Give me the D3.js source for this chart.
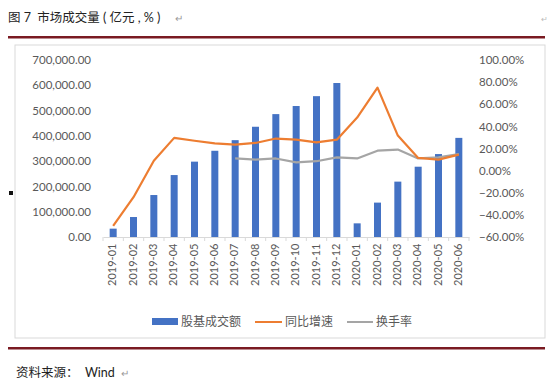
<!DOCTYPE html>
<html>
<head>
<meta charset="utf-8">
<script src="https://cdn.jsdelivr.net/npm/d3@7"></script>
<style>
  body { margin: 0; background: #fff; }
  text { font-family: Lato, "Noto Sans CJK SC", sans-serif; }
</style>
</head>
<body>
<svg id="chart" width="550" height="385"></svg>
<script>
var months = ["2019-01","2019-02","2019-03","2019-04","2019-05","2019-06","2019-07","2019-08","2019-09",
  "2019-10","2019-11","2019-12","2020-01","2020-02","2020-03","2020-04","2020-05","2020-06"];
// 股基成交额 (亿元)
var volume = [33000, 79000, 166000, 245000, 298000, 341000, 383000, 436000, 486000,
  518000, 557000, 609000, 54000, 136000, 219000, 278000, 328000, 392000];
// 同比增速 (%)
var growth = [-50, -24, 9, 29.6, 27, 24.7, 23.5, 25, 29, 28, 25.6, 28, 48, 75, 31.7, 11.5, 10, 14.5];
// 换手率 (%), starts 2019-07
var turnover = [null, null, null, null, null, null, 11, 10, 11, 7.5, 8.5, 12, 11, 18, 19, 11, 12, 15];

var leftTicks = [0, 100000, 200000, 300000, 400000, 500000, 600000, 700000];
var rightTicks = [-60, -40, -20, 0, 20, 40, 60, 80, 100];

var svg = d3.select("#chart");

// header / footer
svg.append("text").attr("x", 8).attr("y", 22).attr("font-size", 12.5).attr("fill", "#222")
  .attr("xml:space", "preserve").text("图 7  市场成交量 ( 亿元 , % )");
svg.append("text").attr("x", 175).attr("y", 22).attr("font-size", 10).attr("fill", "#999").text("↵");
svg.append("text").attr("x", 541).attr("y", 22).attr("font-size", 8).attr("fill", "#bbb").text("↵");
svg.append("rect").attr("x", 8).attr("y", 36).attr("width", 537).attr("height", 2.5).attr("fill", "#7a1a22");
svg.append("rect").attr("x", 15).attr("y", 45).attr("width", 530).attr("height", 293)
  .attr("fill", "none").attr("stroke", "#d9d9d9");
svg.append("rect").attr("x", 8).attr("y", 347).attr("width", 537).attr("height", 2.5).attr("fill", "#7a1a22");
svg.append("text").attr("x", 16).attr("y", 377).attr("font-size", 12.5).attr("fill", "#222")
  .attr("xml:space", "preserve").text("资料来源：  Wind");
svg.append("text").attr("x", 121).attr("y", 377).attr("font-size", 10).attr("fill", "#999").text("↵");
svg.append("rect").attr("x", 9).attr("y", 191).attr("width", 4).attr("height", 4).attr("fill", "#111");

var margin = {top: 60, left: 103, right: 469, bottom: 237};

var x = d3.scaleBand().domain(months).range([margin.left, margin.right]);
var yL = d3.scaleLinear().domain([0, 700000]).range([margin.bottom, margin.top]);
var yR = d3.scaleLinear().domain([-60, 100]).range([margin.bottom, margin.top]);

var fmtL = d3.format(",.2f");

var gL = svg.append("g").attr("transform", "translate(" + 94 + ",0)")
  .call(d3.axisLeft(yL).tickValues(leftTicks).tickFormat(fmtL).tickSize(0));
gL.select(".domain").remove();
gL.selectAll("text").attr("font-size", 11.5).attr("fill", "#595959").attr("font-family", "Lato, sans-serif");

var gR = svg.append("g").attr("transform", "translate(" + 476 + ",0)")
  .call(d3.axisRight(yR).tickValues(rightTicks).tickFormat(function (d) { return d3.format(".2f")(d) + "%"; }).tickSize(0));
gR.select(".domain").remove();
gR.selectAll("text").attr("font-size", 11.5).attr("fill", "#595959").attr("font-family", "Lato, sans-serif");

var gX = svg.append("g").attr("transform", "translate(0," + margin.bottom + ")")
  .call(d3.axisBottom(x).tickSize(0).tickPadding(8));
gX.select(".domain").attr("stroke", "#d9d9d9");
gX.selectAll("text").attr("font-size", 11).attr("fill", "#595959").attr("font-family", "Lato, sans-serif")
  .attr("transform", "rotate(-90)").attr("text-anchor", "end").attr("dx", "-0.6em").attr("dy", "-0.45em");
// category separators
svg.append("g").selectAll("line").data(months.concat(["end"])).enter().append("line")
  .attr("x1", function (d, i) { return margin.left + i * x.step(); })
  .attr("x2", function (d, i) { return margin.left + i * x.step(); })
  .attr("y1", margin.bottom).attr("y2", margin.bottom + 4)
  .attr("stroke", "#d9d9d9");

// bars
svg.append("g").selectAll("rect").data(volume).enter().append("rect")
  .attr("x", function (d, i) { return x(months[i]) + x.bandwidth() / 2 - 3.5; })
  .attr("y", function (d) { return yL(d); })
  .attr("width", 7)
  .attr("height", function (d) { return yL(0) - yL(d); })
  .attr("fill", "#4472c4");

var line = d3.line()
  .defined(function (d) { return d != null; })
  .x(function (d, i) { return x(months[i]) + x.bandwidth() / 2; })
  .y(function (d) { return yR(d); });

svg.append("path").datum(turnover).attr("d", line)
  .attr("fill", "none").attr("stroke", "#a5a5a5").attr("stroke-width", 2.2).attr("stroke-linejoin", "round");
svg.append("path").datum(growth).attr("d", line)
  .attr("fill", "none").attr("stroke", "#ed7d31").attr("stroke-width", 2.2).attr("stroke-linejoin", "round");

// legend
var lg = svg.append("g").attr("font-size", 12).attr("fill", "#595959");
lg.append("rect").attr("x", 152).attr("y", 318).attr("width", 26).attr("height", 7).attr("fill", "#4472c4");
lg.append("text").attr("x", 181).attr("y", 326).attr("fill", "#595959").text("股基成交额");
lg.append("line").attr("x1", 255).attr("x2", 282).attr("y1", 322).attr("y2", 322).attr("stroke", "#ed7d31").attr("stroke-width", 2);
lg.append("text").attr("x", 285).attr("y", 326).attr("fill", "#595959").text("同比增速");
lg.append("line").attr("x1", 347).attr("x2", 373).attr("y1", 322).attr("y2", 322).attr("stroke", "#a5a5a5").attr("stroke-width", 2);
lg.append("text").attr("x", 376).attr("y", 326).attr("fill", "#595959").text("换手率");
</script>
</body>
</html>
